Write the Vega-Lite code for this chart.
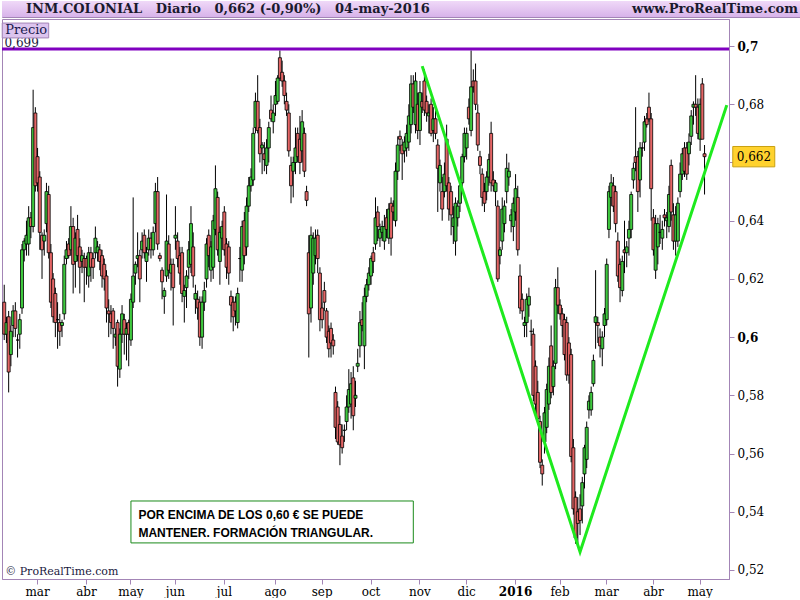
{
"$schema": "https://vega.github.io/schema/vega-lite/v6.json",
"background": "white",
"padding": 0,
"spacing": 0,
"config": {"concat": {"spacing": 0}, "view": {"stroke": "#a385b6"}, "font": "DejaVu Serif", "axis": {"grid": false}},
"datasets": {
"px": [
{"d":"2015-02-09","o":0.612,"h":0.618,"l":0.599,"c":0.601},
{"d":"2015-02-10","o":0.601,"h":0.607,"l":0.598,"c":0.605},
{"d":"2015-02-11","o":0.607,"h":0.609,"l":0.581,"c":0.588},
{"d":"2015-02-12","o":0.594,"h":0.604,"l":0.590,"c":0.602},
{"d":"2015-02-13","o":0.604,"h":0.611,"l":0.600,"c":0.609},
{"d":"2015-02-16","o":0.609,"h":0.612,"l":0.600,"c":0.603},
{"d":"2015-02-17","o":0.599,"h":0.601,"l":0.593,"c":0.599},
{"d":"2015-02-18","o":0.601,"h":0.608,"l":0.596,"c":0.606},
{"d":"2015-02-19","o":0.610,"h":0.632,"l":0.608,"c":0.630},
{"d":"2015-02-20","o":0.630,"h":0.634,"l":0.626,"c":0.633},
{"d":"2015-02-23","o":0.632,"h":0.640,"l":0.628,"c":0.635},
{"d":"2015-02-24","o":0.632,"h":0.645,"l":0.628,"c":0.641},
{"d":"2015-02-25","o":0.641,"h":0.643,"l":0.634,"c":0.638},
{"d":"2015-02-26","o":0.638,"h":0.685,"l":0.636,"c":0.672},
{"d":"2015-02-27","o":0.677,"h":0.679,"l":0.650,"c":0.652},
{"d":"2015-03-02","o":0.662,"h":0.665,"l":0.650,"c":0.653},
{"d":"2015-03-03","o":0.655,"h":0.657,"l":0.630,"c":0.636},
{"d":"2015-03-04","o":0.635,"h":0.636,"l":0.620,"c":0.630},
{"d":"2015-03-05","o":0.633,"h":0.637,"l":0.628,"c":0.635},
{"d":"2015-03-06","o":0.639,"h":0.653,"l":0.636,"c":0.650},
{"d":"2015-03-09","o":0.649,"h":0.652,"l":0.627,"c":0.629},
{"d":"2015-03-10","o":0.629,"h":0.632,"l":0.610,"c":0.612},
{"d":"2015-03-11","o":0.620,"h":0.622,"l":0.605,"c":0.607},
{"d":"2015-03-12","o":0.615,"h":0.617,"l":0.600,"c":0.605},
{"d":"2015-03-13","o":0.606,"h":0.612,"l":0.596,"c":0.606},
{"d":"2015-03-16","o":0.605,"h":0.608,"l":0.597,"c":0.602},
{"d":"2015-03-17","o":0.604,"h":0.606,"l":0.600,"c":0.605},
{"d":"2015-03-18","o":0.608,"h":0.628,"l":0.606,"c":0.625},
{"d":"2015-03-19","o":0.627,"h":0.633,"l":0.625,"c":0.630},
{"d":"2015-03-20","o":0.632,"h":0.634,"l":0.627,"c":0.628},
{"d":"2015-03-23","o":0.630,"h":0.645,"l":0.628,"c":0.638},
{"d":"2015-03-24","o":0.638,"h":0.641,"l":0.615,"c":0.625},
{"d":"2015-03-25","o":0.626,"h":0.636,"l":0.617,"c":0.634},
{"d":"2015-03-26","o":0.637,"h":0.642,"l":0.626,"c":0.628},
{"d":"2015-03-27","o":0.631,"h":0.634,"l":0.615,"c":0.624},
{"d":"2015-03-30","o":0.626,"h":0.630,"l":0.622,"c":0.628},
{"d":"2015-03-31","o":0.627,"h":0.629,"l":0.612,"c":0.624},
{"d":"2015-04-01","o":0.627,"h":0.628,"l":0.618,"c":0.624},
{"d":"2015-04-02","o":0.621,"h":0.631,"l":0.617,"c":0.629},
{"d":"2015-04-07","o":0.629,"h":0.631,"l":0.619,"c":0.624},
{"d":"2015-04-08","o":0.627,"h":0.629,"l":0.620,"c":0.624},
{"d":"2015-04-09","o":0.629,"h":0.638,"l":0.627,"c":0.634},
{"d":"2015-04-10","o":0.629,"h":0.633,"l":0.626,"c":0.631},
{"d":"2015-04-13","o":0.630,"h":0.632,"l":0.623,"c":0.626},
{"d":"2015-04-14","o":0.628,"h":0.630,"l":0.617,"c":0.621},
{"d":"2015-04-15","o":0.625,"h":0.627,"l":0.616,"c":0.620},
{"d":"2015-04-16","o":0.621,"h":0.623,"l":0.605,"c":0.610},
{"d":"2015-04-17","o":0.609,"h":0.613,"l":0.600,"c":0.608},
{"d":"2015-04-20","o":0.608,"h":0.611,"l":0.601,"c":0.605},
{"d":"2015-04-21","o":0.609,"h":0.610,"l":0.596,"c":0.603},
{"d":"2015-04-22","o":0.600,"h":0.603,"l":0.597,"c":0.601},
{"d":"2015-04-23","o":0.605,"h":0.606,"l":0.583,"c":0.590},
{"d":"2015-04-24","o":0.589,"h":0.603,"l":0.586,"c":0.601},
{"d":"2015-04-27","o":0.601,"h":0.611,"l":0.598,"c":0.608},
{"d":"2015-04-28","o":0.606,"h":0.608,"l":0.594,"c":0.601},
{"d":"2015-04-29","o":0.601,"h":0.605,"l":0.592,"c":0.603},
{"d":"2015-04-30","o":0.605,"h":0.606,"l":0.590,"c":0.601},
{"d":"2015-05-04","o":0.599,"h":0.615,"l":0.597,"c":0.613},
{"d":"2015-05-05","o":0.612,"h":0.648,"l":0.610,"c":0.621},
{"d":"2015-05-06","o":0.622,"h":0.626,"l":0.618,"c":0.625},
{"d":"2015-05-07","o":0.627,"h":0.636,"l":0.624,"c":0.628},
{"d":"2015-05-08","o":0.628,"h":0.630,"l":0.612,"c":0.620},
{"d":"2015-05-11","o":0.630,"h":0.636,"l":0.627,"c":0.633},
{"d":"2015-05-12","o":0.635,"h":0.637,"l":0.627,"c":0.629},
{"d":"2015-05-13","o":0.626,"h":0.631,"l":0.619,"c":0.629},
{"d":"2015-05-14","o":0.630,"h":0.637,"l":0.628,"c":0.634},
{"d":"2015-05-15","o":0.634,"h":0.636,"l":0.627,"c":0.630},
{"d":"2015-05-18","o":0.630,"h":0.638,"l":0.628,"c":0.636},
{"d":"2015-05-19","o":0.639,"h":0.653,"l":0.636,"c":0.650},
{"d":"2015-05-20","o":0.650,"h":0.655,"l":0.630,"c":0.632},
{"d":"2015-05-21","o":0.628,"h":0.629,"l":0.626,"c":0.627},
{"d":"2015-05-22","o":0.623,"h":0.624,"l":0.613,"c":0.619},
{"d":"2015-05-25","o":0.614,"h":0.617,"l":0.608,"c":0.616},
{"d":"2015-05-26","o":0.621,"h":0.649,"l":0.619,"c":0.633},
{"d":"2015-05-27","o":0.632,"h":0.635,"l":0.620,"c":0.623},
{"d":"2015-05-28","o":0.622,"h":0.627,"l":0.616,"c":0.625},
{"d":"2015-05-29","o":0.625,"h":0.627,"l":0.604,"c":0.617},
{"d":"2015-06-01","o":0.634,"h":0.645,"l":0.630,"c":0.635},
{"d":"2015-06-02","o":0.633,"h":0.636,"l":0.624,"c":0.627},
{"d":"2015-06-03","o":0.628,"h":0.631,"l":0.618,"c":0.622},
{"d":"2015-06-04","o":0.629,"h":0.631,"l":0.612,"c":0.615},
{"d":"2015-06-05","o":0.614,"h":0.618,"l":0.605,"c":0.616},
{"d":"2015-06-08","o":0.617,"h":0.623,"l":0.610,"c":0.621},
{"d":"2015-06-09","o":0.624,"h":0.633,"l":0.620,"c":0.630},
{"d":"2015-06-10","o":0.625,"h":0.645,"l":0.622,"c":0.639},
{"d":"2015-06-11","o":0.631,"h":0.636,"l":0.617,"c":0.621},
{"d":"2015-06-12","o":0.613,"h":0.618,"l":0.608,"c":0.615},
{"d":"2015-06-15","o":0.613,"h":0.616,"l":0.606,"c":0.610},
{"d":"2015-06-16","o":0.612,"h":0.614,"l":0.597,"c":0.600},
{"d":"2015-06-17","o":0.600,"h":0.614,"l":0.596,"c":0.612},
{"d":"2015-06-18","o":0.612,"h":0.619,"l":0.609,"c":0.616},
{"d":"2015-06-19","o":0.620,"h":0.634,"l":0.617,"c":0.632},
{"d":"2015-06-22","o":0.635,"h":0.637,"l":0.624,"c":0.628},
{"d":"2015-06-23","o":0.623,"h":0.633,"l":0.619,"c":0.631},
{"d":"2015-06-24","o":0.624,"h":0.642,"l":0.620,"c":0.640},
{"d":"2015-06-25","o":0.637,"h":0.659,"l":0.635,"c":0.651},
{"d":"2015-06-26","o":0.648,"h":0.650,"l":0.628,"c":0.630},
{"d":"2015-06-29","o":0.626,"h":0.638,"l":0.618,"c":0.636},
{"d":"2015-06-30","o":0.634,"h":0.640,"l":0.630,"c":0.638},
{"d":"2015-07-01","o":0.643,"h":0.645,"l":0.628,"c":0.630},
{"d":"2015-07-02","o":0.632,"h":0.634,"l":0.620,"c":0.624},
{"d":"2015-07-03","o":0.631,"h":0.633,"l":0.618,"c":0.622},
{"d":"2015-07-06","o":0.614,"h":0.616,"l":0.605,"c":0.611},
{"d":"2015-07-07","o":0.612,"h":0.614,"l":0.602,"c":0.607},
{"d":"2015-07-08","o":0.612,"h":0.614,"l":0.604,"c":0.609},
{"d":"2015-07-09","o":0.605,"h":0.617,"l":0.603,"c":0.615},
{"d":"2015-07-10","o":0.627,"h":0.631,"l":0.619,"c":0.627},
{"d":"2015-07-13","o":0.623,"h":0.640,"l":0.619,"c":0.638},
{"d":"2015-07-14","o":0.640,"h":0.643,"l":0.625,"c":0.628},
{"d":"2015-07-15","o":0.631,"h":0.648,"l":0.628,"c":0.645},
{"d":"2015-07-16","o":0.645,"h":0.655,"l":0.643,"c":0.652},
{"d":"2015-07-17","o":0.652,"h":0.658,"l":0.650,"c":0.655},
{"d":"2015-07-20","o":0.654,"h":0.672,"l":0.652,"c":0.670},
{"d":"2015-07-21","o":0.672,"h":0.684,"l":0.670,"c":0.681},
{"d":"2015-07-22","o":0.681,"h":0.690,"l":0.670,"c":0.671},
{"d":"2015-07-23","o":0.672,"h":0.675,"l":0.660,"c":0.663},
{"d":"2015-07-24","o":0.665,"h":0.667,"l":0.656,"c":0.666},
{"d":"2015-07-27","o":0.663,"h":0.667,"l":0.657,"c":0.661},
{"d":"2015-07-28","o":0.659,"h":0.668,"l":0.656,"c":0.665},
{"d":"2015-07-29","o":0.665,"h":0.674,"l":0.660,"c":0.672},
{"d":"2015-07-30","o":0.678,"h":0.683,"l":0.674,"c":0.675},
{"d":"2015-07-31","o":0.674,"h":0.680,"l":0.670,"c":0.677},
{"d":"2015-08-03","o":0.680,"h":0.688,"l":0.676,"c":0.683},
{"d":"2015-08-04","o":0.681,"h":0.690,"l":0.680,"c":0.689},
{"d":"2015-08-05","o":0.696,"h":0.6985,"l":0.688,"c":0.689},
{"d":"2015-08-06","o":0.691,"h":0.695,"l":0.686,"c":0.688},
{"d":"2015-08-07","o":0.688,"h":0.690,"l":0.680,"c":0.683},
{"d":"2015-08-10","o":0.681,"h":0.684,"l":0.676,"c":0.678},
{"d":"2015-08-11","o":0.677,"h":0.680,"l":0.662,"c":0.664},
{"d":"2015-08-12","o":0.659,"h":0.662,"l":0.646,"c":0.652},
{"d":"2015-08-13","o":0.657,"h":0.662,"l":0.648,"c":0.660},
{"d":"2015-08-14","o":0.660,"h":0.672,"l":0.656,"c":0.665},
{"d":"2015-08-17","o":0.670,"h":0.672,"l":0.660,"c":0.662},
{"d":"2015-08-18","o":0.668,"h":0.676,"l":0.656,"c":0.660},
{"d":"2015-08-19","o":0.664,"h":0.678,"l":0.660,"c":0.674},
{"d":"2015-08-20","o":0.670,"h":0.672,"l":0.655,"c":0.657},
{"d":"2015-08-21","o":0.650,"h":0.652,"l":0.645,"c":0.647},
{"d":"2015-08-24","o":0.629,"h":0.635,"l":0.593,"c":0.608},
{"d":"2015-08-25","o":0.610,"h":0.638,"l":0.605,"c":0.635},
{"d":"2015-08-26","o":0.622,"h":0.636,"l":0.618,"c":0.634},
{"d":"2015-08-27","o":0.628,"h":0.637,"l":0.625,"c":0.634},
{"d":"2015-08-28","o":0.635,"h":0.637,"l":0.622,"c":0.627},
{"d":"2015-08-31","o":0.622,"h":0.624,"l":0.602,"c":0.606},
{"d":"2015-09-01","o":0.610,"h":0.612,"l":0.603,"c":0.606},
{"d":"2015-09-02","o":0.616,"h":0.619,"l":0.609,"c":0.612},
{"d":"2015-09-03","o":0.609,"h":0.610,"l":0.598,"c":0.600},
{"d":"2015-09-04","o":0.602,"h":0.604,"l":0.593,"c":0.596},
{"d":"2015-09-07","o":0.603,"h":0.605,"l":0.593,"c":0.598},
{"d":"2015-09-08","o":0.599,"h":0.601,"l":0.594,"c":0.597},
{"d":"2015-09-09","o":0.581,"h":0.583,"l":0.565,"c":0.569},
{"d":"2015-09-10","o":0.576,"h":0.578,"l":0.563,"c":0.564},
{"d":"2015-09-11","o":0.570,"h":0.573,"l":0.556,"c":0.563},
{"d":"2015-09-14","o":0.566,"h":0.570,"l":0.560,"c":0.562},
{"d":"2015-09-15","o":0.568,"h":0.570,"l":0.564,"c":0.568},
{"d":"2015-09-16","o":0.571,"h":0.580,"l":0.568,"c":0.576},
{"d":"2015-09-17","o":0.576,"h":0.589,"l":0.574,"c":0.582},
{"d":"2015-09-18","o":0.577,"h":0.588,"l":0.572,"c":0.584},
{"d":"2015-09-21","o":0.586,"h":0.590,"l":0.568,"c":0.573},
{"d":"2015-09-22","o":0.579,"h":0.585,"l":0.576,"c":0.580},
{"d":"2015-09-23","o":0.590,"h":0.596,"l":0.588,"c":0.591},
{"d":"2015-09-24","o":0.597,"h":0.609,"l":0.593,"c":0.605},
{"d":"2015-09-25","o":0.606,"h":0.612,"l":0.602,"c":0.604},
{"d":"2015-09-28","o":0.597,"h":0.617,"l":0.589,"c":0.614},
{"d":"2015-09-29","o":0.614,"h":0.620,"l":0.612,"c":0.618},
{"d":"2015-09-30","o":0.618,"h":0.624,"l":0.616,"c":0.622},
{"d":"2015-10-01","o":0.621,"h":0.628,"l":0.618,"c":0.627},
{"d":"2015-10-02","o":0.629,"h":0.631,"l":0.622,"c":0.626},
{"d":"2015-10-05","o":0.632,"h":0.648,"l":0.630,"c":0.641},
{"d":"2015-10-06","o":0.643,"h":0.645,"l":0.633,"c":0.638},
{"d":"2015-10-07","o":0.634,"h":0.639,"l":0.631,"c":0.637},
{"d":"2015-10-08","o":0.636,"h":0.640,"l":0.633,"c":0.638},
{"d":"2015-10-09","o":0.633,"h":0.642,"l":0.630,"c":0.638},
{"d":"2015-10-12","o":0.641,"h":0.644,"l":0.634,"c":0.637},
{"d":"2015-10-13","o":0.634,"h":0.646,"l":0.632,"c":0.644},
{"d":"2015-10-14","o":0.646,"h":0.648,"l":0.628,"c":0.634},
{"d":"2015-10-15","o":0.645,"h":0.647,"l":0.640,"c":0.643},
{"d":"2015-10-16","o":0.640,"h":0.660,"l":0.638,"c":0.657},
{"d":"2015-10-19","o":0.657,"h":0.669,"l":0.654,"c":0.666},
{"d":"2015-10-20","o":0.669,"h":0.671,"l":0.664,"c":0.668},
{"d":"2015-10-21","o":0.666,"h":0.668,"l":0.654,"c":0.663},
{"d":"2015-10-22","o":0.664,"h":0.669,"l":0.660,"c":0.667},
{"d":"2015-10-23","o":0.665,"h":0.673,"l":0.662,"c":0.670},
{"d":"2015-10-26","o":0.667,"h":0.680,"l":0.664,"c":0.676},
{"d":"2015-10-27","o":0.673,"h":0.690,"l":0.670,"c":0.687},
{"d":"2015-10-28","o":0.687,"h":0.690,"l":0.677,"c":0.679},
{"d":"2015-10-29","o":0.673,"h":0.691,"l":0.670,"c":0.688},
{"d":"2015-10-30","o":0.680,"h":0.684,"l":0.668,"c":0.671},
{"d":"2015-11-02","o":0.671,"h":0.688,"l":0.666,"c":0.684},
{"d":"2015-11-03","o":0.681,"h":0.684,"l":0.677,"c":0.679},
{"d":"2015-11-04","o":0.688,"h":0.692,"l":0.676,"c":0.678},
{"d":"2015-11-05","o":0.681,"h":0.683,"l":0.674,"c":0.677},
{"d":"2015-11-06","o":0.676,"h":0.680,"l":0.670,"c":0.677},
{"d":"2015-11-09","o":0.680,"h":0.682,"l":0.669,"c":0.670},
{"d":"2015-11-10","o":0.671,"h":0.679,"l":0.667,"c":0.675},
{"d":"2015-11-11","o":0.675,"h":0.678,"l":0.668,"c":0.670},
{"d":"2015-11-12","o":0.666,"h":0.668,"l":0.643,"c":0.658},
{"d":"2015-11-13","o":0.653,"h":0.661,"l":0.650,"c":0.659},
{"d":"2015-11-16","o":0.650,"h":0.655,"l":0.640,"c":0.644},
{"d":"2015-11-17","o":0.650,"h":0.660,"l":0.648,"c":0.656},
{"d":"2015-11-18","o":0.668,"h":0.673,"l":0.650,"c":0.652},
{"d":"2015-11-19","o":0.653,"h":0.655,"l":0.640,"c":0.644},
{"d":"2015-11-20","o":0.650,"h":0.652,"l":0.635,"c":0.642},
{"d":"2015-11-23","o":0.638,"h":0.645,"l":0.632,"c":0.641},
{"d":"2015-11-24","o":0.633,"h":0.648,"l":0.628,"c":0.646},
{"d":"2015-11-25","o":0.641,"h":0.647,"l":0.638,"c":0.645},
{"d":"2015-11-26","o":0.646,"h":0.653,"l":0.643,"c":0.652},
{"d":"2015-11-27","o":0.653,"h":0.663,"l":0.651,"c":0.662},
{"d":"2015-11-30","o":0.662,"h":0.672,"l":0.660,"c":0.670},
{"d":"2015-12-01","o":0.665,"h":0.672,"l":0.661,"c":0.670},
{"d":"2015-12-02","o":0.679,"h":0.682,"l":0.673,"c":0.675},
{"d":"2015-12-03","o":0.671,"h":0.6985,"l":0.669,"c":0.686},
{"d":"2015-12-04","o":0.688,"h":0.692,"l":0.684,"c":0.686},
{"d":"2015-12-07","o":0.688,"h":0.694,"l":0.678,"c":0.680},
{"d":"2015-12-08","o":0.677,"h":0.680,"l":0.664,"c":0.666},
{"d":"2015-12-09","o":0.662,"h":0.664,"l":0.656,"c":0.659},
{"d":"2015-12-10","o":0.656,"h":0.658,"l":0.645,"c":0.648},
{"d":"2015-12-11","o":0.650,"h":0.653,"l":0.643,"c":0.646},
{"d":"2015-12-14","o":0.650,"h":0.657,"l":0.647,"c":0.655},
{"d":"2015-12-15","o":0.655,"h":0.663,"l":0.652,"c":0.661},
{"d":"2015-12-16","o":0.670,"h":0.674,"l":0.650,"c":0.653},
{"d":"2015-12-17","o":0.654,"h":0.657,"l":0.650,"c":0.652},
{"d":"2015-12-18","o":0.650,"h":0.654,"l":0.645,"c":0.653},
{"d":"2015-12-21","o":0.645,"h":0.647,"l":0.619,"c":0.620},
{"d":"2015-12-22","o":0.628,"h":0.631,"l":0.625,"c":0.630},
{"d":"2015-12-23","o":0.633,"h":0.648,"l":0.630,"c":0.644},
{"d":"2015-12-24","o":0.639,"h":0.647,"l":0.636,"c":0.645},
{"d":"2015-12-28","o":0.650,"h":0.663,"l":0.646,"c":0.658},
{"d":"2015-12-29","o":0.655,"h":0.660,"l":0.652,"c":0.657},
{"d":"2015-12-30","o":0.640,"h":0.644,"l":0.636,"c":0.642},
{"d":"2015-12-31","o":0.638,"h":0.648,"l":0.633,"c":0.646},
{"d":"2016-01-04","o":0.643,"h":0.656,"l":0.640,"c":0.651},
{"d":"2016-01-05","o":0.648,"h":0.652,"l":0.628,"c":0.630},
{"d":"2016-01-06","o":0.621,"h":0.625,"l":0.608,"c":0.610},
{"d":"2016-01-07","o":0.613,"h":0.615,"l":0.606,"c":0.609},
{"d":"2016-01-08","o":0.604,"h":0.607,"l":0.600,"c":0.605},
{"d":"2016-01-11","o":0.605,"h":0.615,"l":0.600,"c":0.613},
{"d":"2016-01-12","o":0.611,"h":0.617,"l":0.607,"c":0.614},
{"d":"2016-01-13","o":0.602,"h":0.606,"l":0.597,"c":0.602},
{"d":"2016-01-14","o":0.601,"h":0.603,"l":0.578,"c":0.580},
{"d":"2016-01-15","o":0.590,"h":0.592,"l":0.574,"c":0.577},
{"d":"2016-01-18","o":0.581,"h":0.585,"l":0.570,"c":0.572},
{"d":"2016-01-19","o":0.571,"h":0.573,"l":0.555,"c":0.557},
{"d":"2016-01-20","o":0.556,"h":0.558,"l":0.549,"c":0.553},
{"d":"2016-01-21","o":0.564,"h":0.576,"l":0.560,"c":0.574},
{"d":"2016-01-22","o":0.569,"h":0.584,"l":0.567,"c":0.582},
{"d":"2016-01-25","o":0.577,"h":0.593,"l":0.575,"c":0.590},
{"d":"2016-01-26","o":0.597,"h":0.604,"l":0.579,"c":0.581},
{"d":"2016-01-27","o":0.583,"h":0.592,"l":0.580,"c":0.590},
{"d":"2016-01-28","o":0.591,"h":0.620,"l":0.589,"c":0.617},
{"d":"2016-01-29","o":0.617,"h":0.624,"l":0.608,"c":0.611},
{"d":"2016-02-01","o":0.611,"h":0.613,"l":0.606,"c":0.608},
{"d":"2016-02-02","o":0.608,"h":0.610,"l":0.600,"c":0.604},
{"d":"2016-02-03","o":0.606,"h":0.608,"l":0.592,"c":0.594},
{"d":"2016-02-04","o":0.605,"h":0.607,"l":0.585,"c":0.587},
{"d":"2016-02-05","o":0.598,"h":0.600,"l":0.584,"c":0.587},
{"d":"2016-02-08","o":0.594,"h":0.596,"l":0.557,"c":0.559},
{"d":"2016-02-09","o":0.562,"h":0.565,"l":0.539,"c":0.541},
{"d":"2016-02-10","o":0.545,"h":0.547,"l":0.529,"c":0.531},
{"d":"2016-02-11","o":0.540,"h":0.545,"l":0.5285,"c":0.536},
{"d":"2016-02-12","o":0.541,"h":0.546,"l":0.532,"c":0.537},
{"d":"2016-02-15","o":0.542,"h":0.552,"l":0.536,"c":0.550},
{"d":"2016-02-16","o":0.553,"h":0.563,"l":0.548,"c":0.562},
{"d":"2016-02-17","o":0.558,"h":0.571,"l":0.555,"c":0.569},
{"d":"2016-02-18","o":0.575,"h":0.580,"l":0.572,"c":0.578},
{"d":"2016-02-19","o":0.575,"h":0.583,"l":0.573,"c":0.581},
{"d":"2016-02-22","o":0.584,"h":0.594,"l":0.583,"c":0.592},
{"d":"2016-02-23","o":0.605,"h":0.623,"l":0.596,"c":0.607},
{"d":"2016-02-24","o":0.605,"h":0.607,"l":0.598,"c":0.604},
{"d":"2016-02-25","o":0.600,"h":0.603,"l":0.593,"c":0.597},
{"d":"2016-02-26","o":0.596,"h":0.602,"l":0.590,"c":0.600},
{"d":"2016-02-29","o":0.604,"h":0.610,"l":0.600,"c":0.608},
{"d":"2016-03-01","o":0.606,"h":0.627,"l":0.604,"c":0.625},
{"d":"2016-03-02","o":0.637,"h":0.652,"l":0.634,"c":0.650},
{"d":"2016-03-03","o":0.648,"h":0.656,"l":0.645,"c":0.653},
{"d":"2016-03-04","o":0.652,"h":0.655,"l":0.643,"c":0.645},
{"d":"2016-03-07","o":0.650,"h":0.652,"l":0.636,"c":0.639},
{"d":"2016-03-08","o":0.633,"h":0.636,"l":0.619,"c":0.621},
{"d":"2016-03-09","o":0.625,"h":0.627,"l":0.612,"c":0.617},
{"d":"2016-03-10","o":0.616,"h":0.628,"l":0.614,"c":0.626},
{"d":"2016-03-11","o":0.630,"h":0.640,"l":0.622,"c":0.629},
{"d":"2016-03-14","o":0.629,"h":0.633,"l":0.624,"c":0.631},
{"d":"2016-03-15","o":0.634,"h":0.640,"l":0.628,"c":0.637},
{"d":"2016-03-16","o":0.637,"h":0.650,"l":0.634,"c":0.649},
{"d":"2016-03-17","o":0.654,"h":0.660,"l":0.651,"c":0.658},
{"d":"2016-03-18","o":0.662,"h":0.679,"l":0.657,"c":0.660},
{"d":"2016-03-21","o":0.662,"h":0.664,"l":0.643,"c":0.650},
{"d":"2016-03-22","o":0.654,"h":0.667,"l":0.648,"c":0.665},
{"d":"2016-03-23","o":0.665,"h":0.667,"l":0.662,"c":0.665},
{"d":"2016-03-24","o":0.667,"h":0.676,"l":0.664,"c":0.674},
{"d":"2016-03-29","o":0.675,"h":0.677,"l":0.672,"c":0.673},
{"d":"2016-03-30","o":0.679,"h":0.684,"l":0.674,"c":0.675},
{"d":"2016-03-31","o":0.675,"h":0.677,"l":0.640,"c":0.651},
{"d":"2016-04-01","o":0.641,"h":0.644,"l":0.628,"c":0.630},
{"d":"2016-04-04","o":0.623,"h":0.642,"l":0.620,"c":0.639},
{"d":"2016-04-05","o":0.631,"h":0.641,"l":0.625,"c":0.639},
{"d":"2016-04-06","o":0.636,"h":0.642,"l":0.632,"c":0.636},
{"d":"2016-04-07","o":0.634,"h":0.640,"l":0.630,"c":0.637},
{"d":"2016-04-08","o":0.642,"h":0.644,"l":0.638,"c":0.641},
{"d":"2016-04-11","o":0.640,"h":0.643,"l":0.634,"c":0.641},
{"d":"2016-04-12","o":0.638,"h":0.652,"l":0.636,"c":0.649},
{"d":"2016-04-13","o":0.659,"h":0.661,"l":0.640,"c":0.643},
{"d":"2016-04-14","o":0.642,"h":0.646,"l":0.630,"c":0.633},
{"d":"2016-04-15","o":0.633,"h":0.645,"l":0.628,"c":0.642},
{"d":"2016-04-18","o":0.633,"h":0.648,"l":0.631,"c":0.646},
{"d":"2016-04-19","o":0.650,"h":0.660,"l":0.648,"c":0.656},
{"d":"2016-04-20","o":0.656,"h":0.665,"l":0.654,"c":0.663},
{"d":"2016-04-21","o":0.665,"h":0.667,"l":0.655,"c":0.657},
{"d":"2016-04-22","o":0.665,"h":0.667,"l":0.654,"c":0.656},
{"d":"2016-04-25","o":0.663,"h":0.670,"l":0.659,"c":0.667},
{"d":"2016-04-26","o":0.669,"h":0.678,"l":0.666,"c":0.676},
{"d":"2016-04-27","o":0.679,"h":0.681,"l":0.673,"c":0.680},
{"d":"2016-04-28","o":0.680,"h":0.690,"l":0.676,"c":0.679},
{"d":"2016-04-29","o":0.679,"h":0.682,"l":0.668,"c":0.670},
{"d":"2016-05-02","o":0.668,"h":0.682,"l":0.664,"c":0.680},
{"d":"2016-05-03","o":0.687,"h":0.689,"l":0.668,"c":0.668},
{"d":"2016-05-04","o":0.663,"h":0.666,"l":0.649,"c":0.662}
],
"tri": [
{"d":"2015-11-03","v":0.6931},
{"d":"2016-02-12","v":0.5262},
{"d":"2016-05-18","v":0.6797}
]
},
"vconcat": [
{
"width": 800, "height": 16,
"view": {"stroke": "#a385b6"},
"data": {"values": [{}]},
"layer": [
{"mark": {"type": "rect", "fill": {"gradient": "linear", "x1": 0, "y1": 0, "x2": 0, "y2": 1, "stops": [{"offset": 0, "color": "#f0d9f8"}, {"offset": 1, "color": "#d8b3ea"}]}},
 "encoding": {"x": {"datum": 0, "type": "quantitative", "scale": {"domain": [0, 1], "nice": false, "zero": false}, "axis": null}, "x2": {"datum": 1}}},
{"mark": {"type": "text", "text": "INM.COLONIAL\u00a0\u00a0 Diario\u00a0\u00a0 0,662 (-0,90%)\u00a0\u00a0 04-may-2016", "align": "left", "baseline": "middle", "font": "DejaVu Serif", "fontWeight": "bold", "fontSize": 13, "color": "#1a1a2e", "dx": 24},
 "encoding": {"x": {"datum": 0, "type": "quantitative"}}},
{"mark": {"type": "text", "text": "www.ProRealTime.com", "align": "right", "baseline": "middle", "font": "DejaVu Serif", "fontWeight": "bold", "fontSize": 13, "color": "#1a1a2e", "dx": -4},
 "encoding": {"x": {"datum": 1, "type": "quantitative"}}}
]
},
{
"width": 727, "height": 560,
"view": {"stroke": "#a385b6"},
"layer": [
{"data": {"name": "px"},
 "mark": {"type": "rule", "color": "#000000", "strokeWidth": 1},
 "encoding": {
  "x": {"field": "d", "type": "ordinal", "sort": "ascending",
   "scale": {"type": "band", "paddingInner": 0, "paddingOuter": 0.5, "domain": {"unionWith": ["2016-05-05","2016-05-06","2016-05-09","2016-05-10","2016-05-11","2016-05-12","2016-05-13","2016-05-16","2016-05-17","2016-05-18"]}},
   "axis": {"title": null, "orient": "bottom", "bandPosition": 0.5, "labelAngle": 0,
    "values": ["2015-03-02","2015-04-01","2015-05-04","2015-06-01","2015-07-01","2015-08-03","2015-09-01","2015-10-01","2015-11-02","2015-12-01","2016-01-04","2016-02-01","2016-03-01","2016-04-01","2016-05-02"],
    "labelExpr": "datum.value == '2016-01-04' ? '2016' : ['ene','feb','mar','abr','may','jun','jul','ago','sep','oct','nov','dic'][toNumber(substring(datum.value,5,7))-1]",
    "labelFontWeight": {"condition": {"test": "datum.value == '2016-01-04'", "value": "bold"}, "value": "normal"},
    "labelFont": "DejaVu Serif", "labelFontSize": 12, "labelColor": "#000000", "labelPadding": 2,
    "tickColor": "#a385b6", "tickSize": 5, "domainColor": "#a385b6", "labelOverlap": false, "labelFlush": false}},
  "y": {"field": "l", "type": "quantitative",
   "scale": {"domain": [0.5169, 0.7093], "nice": false, "zero": false},
   "axis": {"title": null, "orient": "right",
    "values": [0.52,0.53,0.54,0.55,0.56,0.57,0.58,0.59,0.6,0.61,0.62,0.63,0.64,0.65,0.66,0.67,0.68,0.69,0.7],
    "labelExpr": "abs(datum.value*50 - round(datum.value*50)) < 0.01 && abs(datum.value - 0.66) > 0.001 ? replace(format(datum.value, '.2~f'), '.', ',') : ''",
    "labelFontWeight": {"condition": {"test": "abs(datum.value*10 - round(datum.value*10)) < 0.001", "value": "bold"}, "value": "normal"},
    "labelFont": "DejaVu Serif", "labelFontSize": 12, "labelColor": "#000000", "labelPadding": 3,
    "tickColor": "#a385b6", "tickSize": 5, "domainColor": "#a385b6"}},
  "y2": {"field": "h"}
 }},
{"data": {"name": "px"},
 "mark": {"type": "bar", "width": 3, "stroke": "#000000", "strokeWidth": 0.8},
 "encoding": {
  "x": {"field": "d", "type": "ordinal", "sort": "ascending"},
  "y": {"field": "o", "type": "quantitative"},
  "y2": {"field": "c"},
  "fill": {"condition": {"test": "datum.c >= datum.o", "value": "#3ec93e"}, "value": "#e46565"}
 }},
{"data": {"values": [{}]},
 "mark": {"type": "rule", "color": "#8000c0", "strokeWidth": 3},
 "encoding": {"y": {"datum": 0.699, "type": "quantitative"}}},
{"data": {"name": "tri"},
 "mark": {"type": "line", "color": "#1eea1e", "strokeWidth": 3},
 "encoding": {"x": {"field": "d", "type": "ordinal", "sort": "ascending"}, "y": {"field": "v", "type": "quantitative"}}},
{"data": {"values": [{}]},
 "mark": {"type": "text", "text": "0,699", "align": "left", "baseline": "alphabetic", "font": "DejaVu Serif", "fontSize": 12, "color": "#1a1a40", "dx": -2, "dy": -2},
 "encoding": {"x": {"datum": "2015-02-10", "type": "ordinal"}, "y": {"datum": 0.699, "type": "quantitative"}}},
{"data": {"values": [{}]},
 "mark": {"type": "rect", "fill": "#dcc4ee", "stroke": "#a385b6", "strokeWidth": 1, "xOffset": -2},
 "encoding": {"x": {"datum": "2015-02-09", "type": "ordinal"}, "x2": {"datum": "2015-03-09"}, "y": {"datum": 0.7079, "type": "quantitative"}, "y2": {"datum": 0.7028}}},
{"data": {"values": [{}]},
 "mark": {"type": "text", "text": "Precio", "align": "left", "baseline": "middle", "font": "DejaVu Serif", "fontSize": 13, "color": "#1a1a4d", "dx": 1},
 "encoding": {"x": {"datum": "2015-02-09", "type": "ordinal"}, "y": {"datum": 0.7054, "type": "quantitative"}}},
{"data": {"values": [{}]},
 "mark": {"type": "rect", "fill": "#ffffff", "stroke": "#1a8a1a", "strokeWidth": 1},
 "encoding": {"x": {"datum": "2015-05-04", "type": "ordinal"}, "x2": {"datum": "2015-10-28"}, "y": {"datum": 0.5437, "type": "quantitative"}, "y2": {"datum": 0.5293}}},
{"data": {"values": [{}]},
 "mark": {"type": "text", "text": "POR ENCIMA DE LOS 0,60 € SE PUEDE\nMANTENER. FORMACIÓN TRIANGULAR.", "lineBreak": "\n", "lineHeight": 18, "align": "left", "baseline": "middle", "font": "Liberation Sans", "fontWeight": "bold", "fontSize": 12, "color": "#000000", "dx": 3},
 "encoding": {"x": {"datum": "2015-05-06", "type": "ordinal"}, "y": {"datum": 0.5389, "type": "quantitative"}}},
{"data": {"values": [{}]},
 "mark": {"type": "text", "text": "© ProRealTime.com", "align": "left", "baseline": "middle", "font": "DejaVu Serif", "fontSize": 11, "color": "#1a1a40", "dx": 1},
 "encoding": {"x": {"datum": "2015-02-09", "type": "ordinal"}, "y": {"datum": 0.5193, "type": "quantitative"}}},
{"data": {"values": [{}]},
 "mark": {"type": "rect", "fill": "#ffd22e", "stroke": "#c9a010", "strokeWidth": 1, "xOffset": 6, "x2Offset": 48},
 "encoding": {"x": {"datum": "2016-05-18", "type": "ordinal"}, "x2": {"datum": "2016-05-18"}, "y": {"datum": 0.6655, "type": "quantitative"}, "y2": {"datum": 0.6585}}},
{"data": {"values": [{}]},
 "mark": {"type": "text", "text": "0,662", "align": "left", "baseline": "middle", "font": "DejaVu Serif", "fontSize": 12, "color": "#000000", "dx": 10},
 "encoding": {"x": {"datum": "2016-05-18", "type": "ordinal"}, "y": {"datum": 0.662, "type": "quantitative"}}}
]
}
]
}
